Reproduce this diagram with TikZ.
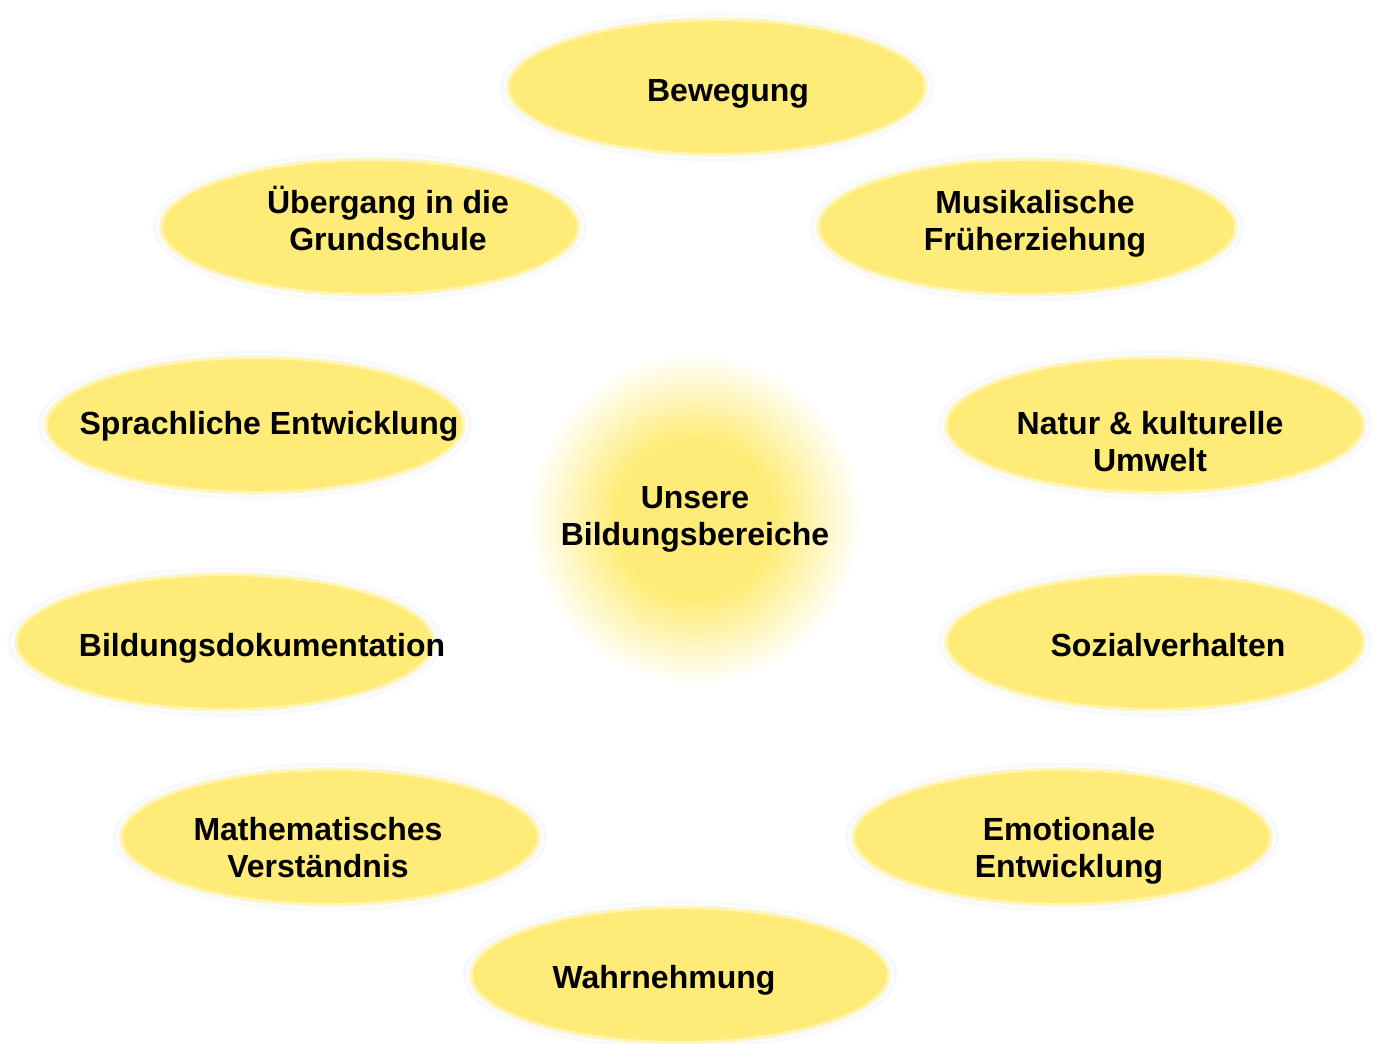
\documentclass[tikz,border=0pt]{standalone}
\usepackage{fontspec}
\setmainfont{Liberation Sans}
\usetikzlibrary{shapes.geometric}

\definecolor{bubbleyellow}{RGB}{255,236,120}
\definecolor{bubblehalo}{RGB}{247,248,251}
\pgfdeclareradialshading{centreglow}{\pgfpoint{0bp}{0bp}}{color(0bp)=(bubbleyellow); color(12bp)=(bubbleyellow); color(25bp)=(white); color(50bp)=(white)}

\begin{document}
\begin{tikzpicture}[x=0.75pt, y=-0.75pt,
    halo/.style={ellipse, fill=bubblehalo, inner sep=0pt, minimum width=326pt, minimum height=112pt},
    bubble/.style={ellipse, fill=bubbleyellow, draw=white, draw opacity=0.5, line width=5pt, inner sep=0pt, minimum width=316pt, minimum height=104pt},
    bereichtext/.style={font=\fontsize{24}{27.75}\selectfont\bfseries, align=center, inner sep=0pt},
    glowdisc/.style={circle, shading=centreglow, inner sep=0pt, minimum size=250pt}]
    \useasboundingbox (0,0) rectangle (1377,1043);

    % Draw centre
    \node[glowdisc, bereichtext] (mitte) at (695,519) {Unsere\\Bildungsbereiche};

    % Draw halos
    \node[halo] at (717,87) {};
    \node[halo] at (370,227) {};
    \node[halo] at (1027,227) {};
    \node[halo] at (255,425) {};
    \node[halo] at (1155,425) {};
    \node[halo] at (225,642) {};
    \node[halo] at (1155,642) {};
    \node[halo] at (330,837) {};
    \node[halo] at (1062,837) {};
    \node[halo] at (680,975) {};

    % Draw bubbles
    \node[bubble] (bewegung) at (717,87) {};
    \node[bubble] (uebergang) at (370,227) {};
    \node[bubble] (musik) at (1027,227) {};
    \node[bubble] (sprache) at (255,425) {};
    \node[bubble] (natur) at (1155,425) {};
    \node[bubble] (doku) at (225,642) {};
    \node[bubble] (sozial) at (1155,642) {};
    \node[bubble] (mathe) at (330,837) {};
    \node[bubble] (emotion) at (1062,837) {};
    \node[bubble] (wahrnehmung) at (680,975) {};

    % Draw texts
    \node[bereichtext] (bewegung-t) at (728,94) {Bewegung};
    \node[bereichtext] (uebergang-t) at (388,218) {Übergang in die\\Grundschule};
    \node[bereichtext] (musik-t) at (1035,224) {Musikalische\\Früherziehung};
    \node[bereichtext] (sprache-t) at (269,426) {Sprachliche Entwicklung};
    \node[bereichtext] (natur-t) at (1150,442) {Natur \& kulturelle\\Umwelt};
    \node[bereichtext] (doku-t) at (262,648) {Bildungsdokumentation};
    \node[bereichtext] (sozial-t) at (1168,645) {Sozialverhalten};
    \node[bereichtext] (mathe-t) at (318,848) {Mathematisches\\Verständnis};
    \node[bereichtext] (emotion-t) at (1069,851) {Emotionale\\Entwicklung};
    \node[bereichtext] (wahrnehmung-t) at (664,980) {Wahrnehmung};
\end{tikzpicture}
\end{document}
